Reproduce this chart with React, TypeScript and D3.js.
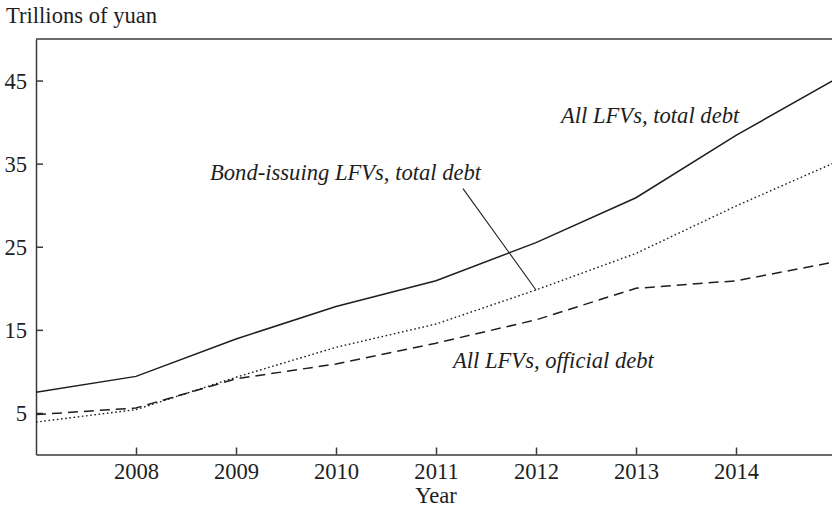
import { useEffect, useRef } from "react"
import * as d3 from "d3"

const years = [2007, 2008, 2009, 2010, 2011, 2012, 2013, 2014, 2015]
const allTotal = [7.5, 9.4, 13.9, 17.8, 20.9, 25.5, 30.9, 38.4, 45.2]
const bondTotal = [3.9, 5.4, 9.3, 12.9, 15.7, 19.8, 24.2, 29.9, 35.2]
const allOfficial = [4.8, 5.6, 9.1, 10.9, 13.4, 16.2, 20.0, 20.9, 23.2]
const xTicks = [2008, 2009, 2010, 2011, 2012, 2013, 2014]
const yTicks = [5, 15, 25, 35, 45]

const FONT = "'Liberation Serif', 'Times New Roman', serif"
const INK = "#1e1e1e"
const FS = "22.6px"

export default function App() {
  const svgRef = useRef<SVGSVGElement>(null)

  useEffect(() => {
    document.body.style.margin = "0"
    const svgEl = svgRef.current
    if (!svgEl) return
    const svg = d3.select(svgEl)
    svg.selectAll("*").remove()

    const W = 832, H = 514
    // plot box runs past the right edge (source figure is cropped there)
    const margin = { top: 39, left: 36, right: -4, bottom: 59.5 }
    const x = d3.scaleLinear().domain([2007, 2015]).range([margin.left, W - margin.right])
    const y = d3.scaleLinear().domain([0, 50]).range([H - margin.bottom, margin.top])

    const g = svg.append("g")

    // axes
    const ax = g.append("g").attr("transform", `translate(0,${y(0)})`)
      .call(d3.axisBottom(x).tickValues(xTicks).tickFormat(d3.format("d")).tickSizeInner(-7).tickSizeOuter(0).tickPadding(8))
    const ay = g.append("g").attr("transform", `translate(${x(2007)},0)`)
      .call(d3.axisLeft(y).tickValues(yTicks).tickSizeInner(-7).tickSizeOuter(0).tickPadding(9))
    for (const a of [ax, ay]) {
      a.selectAll("path, line").attr("stroke", "#3a3a3a").attr("stroke-width", 1.5)
      a.selectAll("text").attr("fill", INK).style("font-family", FONT).style("font-size", FS)
    }
    ay.selectAll("text").attr("dy", "0.34em")
    g.append("line")
      .attr("x1", x(2007)).attr("x2", x(2015)).attr("y1", y(50)).attr("y2", y(50))
      .attr("stroke", "#3a3a3a").attr("stroke-width", 1.5)

    // series
    const series = [
      { values: allTotal, dash: null, width: 1.5 },
      { values: bondTotal, dash: "1.6,2.6", width: 1.4 },
      { values: allOfficial, dash: "10,6", width: 1.5 },
    ]
    const line = d3.line<number>().x((_, i) => x(years[i])).y(d => y(d))
    for (const s of series) {
      g.append("path")
        .attr("d", line(s.values) || "")
        .attr("fill", "none")
        .attr("stroke", INK)
        .attr("stroke-width", s.width)
        .attr("stroke-dasharray", s.dash)
    }

    // leader from label to the 2012 bond-issuing point
    const iLead = years.indexOf(2012)
    g.append("line")
      .attr("x1", x(2011.27)).attr("y1", y(32))
      .attr("x2", x(years[iLead])).attr("y2", y(bondTotal[iLead]))
      .attr("stroke", INK).attr("stroke-width", 1.1)

    const labels = [
      { text: "All LFVs, total debt", yr: 2012.25, v: 39.9 },
      { text: "Bond-issuing LFVs, total debt", yr: 2008.74, v: 33.0 },
      { text: "All LFVs, official debt", yr: 2011.17, v: 10.4 },
    ]
    g.selectAll("text.lbl").data(labels).join("text")
      .attr("class", "lbl")
      .attr("x", d => x(d.yr)).attr("y", d => y(d.v))
      .attr("fill", INK)
      .style("font-family", FONT).style("font-size", FS).style("font-style", "italic")
      .text(d => d.text)

    svg.append("text").attr("x", 6).attr("y", 23)
      .attr("fill", INK).style("font-family", FONT).style("font-size", FS)
      .text("Trillions of yuan")
    svg.append("text").attr("x", x(2011)).attr("y", 503).attr("text-anchor", "middle")
      .attr("fill", INK).style("font-family", FONT).style("font-size", FS)
      .text("Year")
  }, [])

  return <svg ref={svgRef} width={832} height={514} style={{ display: "block", background: "#fff" }} />
}
